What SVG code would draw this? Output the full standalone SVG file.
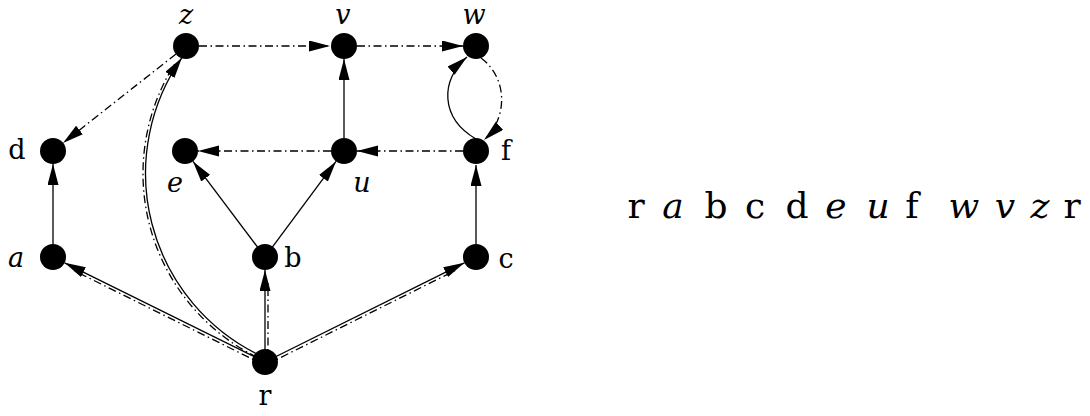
<svg xmlns="http://www.w3.org/2000/svg" width="1090" height="416" viewBox="0 0 1090 416">
<style>
.node{fill:#000}
.e{fill:none;stroke:#000;stroke-width:1.3}
.dd{fill:none;stroke:#000;stroke-width:1.3;stroke-dasharray:8 3.5 1.5 3.5}
.lbl{font-family:"DejaVu Serif","Liberation Serif",serif;font-size:27px;fill:#000;text-anchor:middle}
.it{font-style:italic}
.seq{font-family:"DejaVu Serif","Liberation Serif",serif;font-size:36px;fill:#000;text-anchor:middle}
</style>
<defs>
<marker id="ah" markerUnits="userSpaceOnUse" markerWidth="22" markerHeight="12" refX="21" refY="5.5" orient="auto">
<path d="M0,0 L21,5.5 L0,11 z" fill="#000"/>
</marker>
</defs>
<rect width="1090" height="416" fill="#fff"/>
<g id="connectors">
<line class="dd" x1="199" y1="46" x2="330" y2="46" marker-end="url(#ah)"/>
<line class="dd" x1="357" y1="46" x2="463" y2="46" marker-end="url(#ah)"/>
<line class="dd" x1="176" y1="54" x2="63" y2="143" marker-end="url(#ah)"/>
<line class="e" x1="344" y1="138" x2="344" y2="59" marker-end="url(#ah)"/>
<line class="dd" x1="331" y1="151" x2="198" y2="151" marker-end="url(#ah)"/>
<line class="dd" x1="463" y1="151" x2="357" y2="151" marker-end="url(#ah)"/>
<path class="e" d="M476 139 C440 118 440 80 467 57" marker-end="url(#ah)"/>
<path class="dd" d="M481 58 C508 78 508 118 484 140" marker-end="url(#ah)"/>
<line class="e" x1="265" y1="257" x2="193" y2="161.4" marker-end="url(#ah)"/>
<line class="e" x1="265" y1="257" x2="336" y2="161.4" marker-end="url(#ah)"/>
<line class="e" x1="53" y1="244" x2="53" y2="164" marker-end="url(#ah)"/>
<line class="e" x1="476" y1="244" x2="476" y2="165" marker-end="url(#ah)"/>
<line class="e" x1="265" y1="362" x2="64.6" y2="262.8" marker-end="url(#ah)"/>
<line class="dd" x1="263.7" y1="364.7" x2="72" y2="269.6"/>
<line class="e" x1="265" y1="362" x2="265" y2="270" marker-end="url(#ah)"/>
<line class="dd" x1="268" y1="362" x2="268" y2="280"/>
<line class="e" x1="265" y1="362" x2="464.4" y2="262.8" marker-end="url(#ah)"/>
<line class="dd" x1="266.3" y1="364.7" x2="457" y2="269.6"/>
<path class="e" d="M258.4 354.6 A202 202 0 0 1 181.9 57.7" marker-end="url(#ah)"/>
<path class="dd" d="M257.1 357.3 A205 205 0 0 1 176 62"/>
</g>
<g id="z"><circle class="node" cx="186" cy="46" r="13"/><text class="lbl it" x="186" y="24">z</text></g>
<g id="v"><circle class="node" cx="344" cy="46" r="13"/><text class="lbl it" x="343" y="24">v</text></g>
<g id="w"><circle class="node" cx="476" cy="46" r="13"/><text class="lbl it" x="474" y="24">w</text></g>
<g id="d"><circle class="node" cx="53" cy="151" r="13"/><text class="lbl" x="17" y="159">d</text></g>
<g id="e"><circle class="node" cx="185" cy="151" r="13"/><text class="lbl it" x="175" y="192">e</text></g>
<g id="u"><circle class="node" cx="344" cy="151" r="13"/><text class="lbl it" x="362" y="192">u</text></g>
<g id="f"><circle class="node" cx="476" cy="151" r="13"/><text class="lbl" x="506" y="160">f</text></g>
<g id="a"><circle class="node" cx="53" cy="257" r="13"/><text class="lbl it" x="16" y="267">a</text></g>
<g id="b"><circle class="node" cx="265" cy="257" r="13"/><text class="lbl" x="293" y="267">b</text></g>
<g id="c"><circle class="node" cx="476" cy="257" r="13"/><text class="lbl" x="506" y="268">c</text></g>
<g id="r"><circle class="node" cx="265" cy="362" r="13"/><text class="lbl" x="265" y="405">r</text></g>
<g id="sequence">
<text class="seq" x="636" y="218">r</text>
<text class="seq it" x="673" y="218">a</text>
<text class="seq" x="716" y="218">b</text>
<text class="seq" x="755" y="218">c</text>
<text class="seq" x="797" y="218">d</text>
<text class="seq it" x="836" y="218">e</text>
<text class="seq it" x="878" y="218">u</text>
<text class="seq" x="912" y="218">f</text>
<text class="seq it" x="964" y="218">w</text>
<text class="seq it" x="1005" y="218">v</text>
<text class="seq it" x="1040" y="218">z</text>
<text class="seq" x="1072" y="218">r</text>
</g>
</svg>
